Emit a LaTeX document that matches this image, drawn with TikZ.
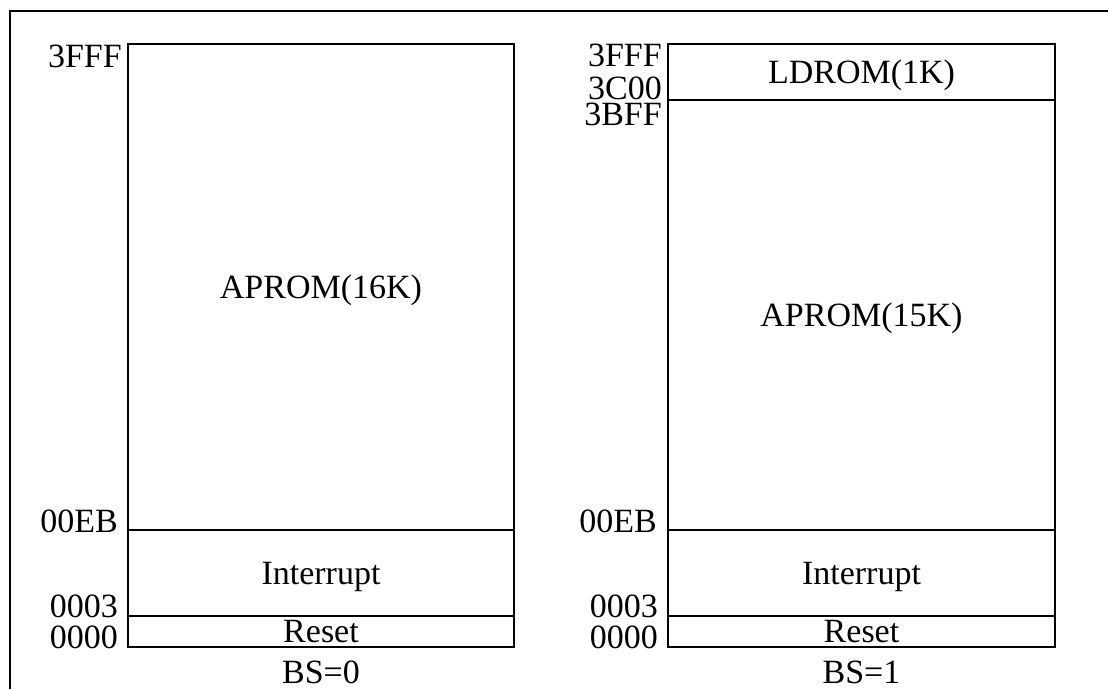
\documentclass[tikz,border=0pt]{standalone}
\usepackage{fontspec}
\setmainfont{Liberation Serif}
\begin{document}
\begin{tikzpicture}[x=1pt,y=-1pt,
  region/.style={draw, line width=1.3pt, inner sep=0pt, outer sep=0pt,
    minimum width=#1, text height=22.5pt, text depth=0pt},
  addr/.style={anchor=base east, inner sep=0pt},
  caption/.style={anchor=base, inner sep=0pt},
  every node/.style={font=\fontsize{34}{38}\selectfont}]
\useasboundingbox (0,0) rectangle (1108,689);

% page frame (only top and left edges are inside the page)
\coordinate (fb) at (10,689);
\coordinate (fc) at (10,11);
\coordinate (fr) at (1108,11);
\draw[line width=1.5pt] (fb) -- (fc) -- (fr);

% ---- BS = 0 : whole flash is APROM ----
\node[region=386pt, minimum height=486pt] (lap)  at (321,287)   {APROM(16K)};
\node[region=386pt, minimum height=86pt]  (lint) at (321,573)   {Interrupt};
\node[region=386pt, minimum height=31pt]  (lrst) at (321,631.5) {Reset};
\node[caption] (lbs) at (321,683) {BS=0};

\node[addr] (l3fff) at (122,67)  {3FFF};
\node[addr] (l00eb) at (118,532) {00EB};
\node[addr] (l0003) at (118,617) {0003};
\node[addr] (l0000) at (118,648) {0000};

% ---- BS = 1 : LDROM on top of APROM ----
\node[region=387pt, minimum height=56pt]  (rld)  at (861.5,72)    {LDROM(1K)};
\node[region=387pt, minimum height=430pt] (rap)  at (861.5,315)   {APROM(15K)};
\node[region=387pt, minimum height=86pt]  (rint) at (861.5,573)   {Interrupt};
\node[region=387pt, minimum height=31pt]  (rrst) at (861.5,631.5) {Reset};
\node[caption] (rbs) at (861.5,683) {BS=1};

\node[addr] (r3fff) at (662,66)  {3FFF};
\node[addr] (r3c00) at (662,99)  {3C00};
\node[addr] (r3bff) at (662,125) {3BFF};
\node[addr] (r00eb) at (657,532) {00EB};
\node[addr] (r0003) at (658,617) {0003};
\node[addr] (r0000) at (658,648) {0000};
\end{tikzpicture}
\end{document}
